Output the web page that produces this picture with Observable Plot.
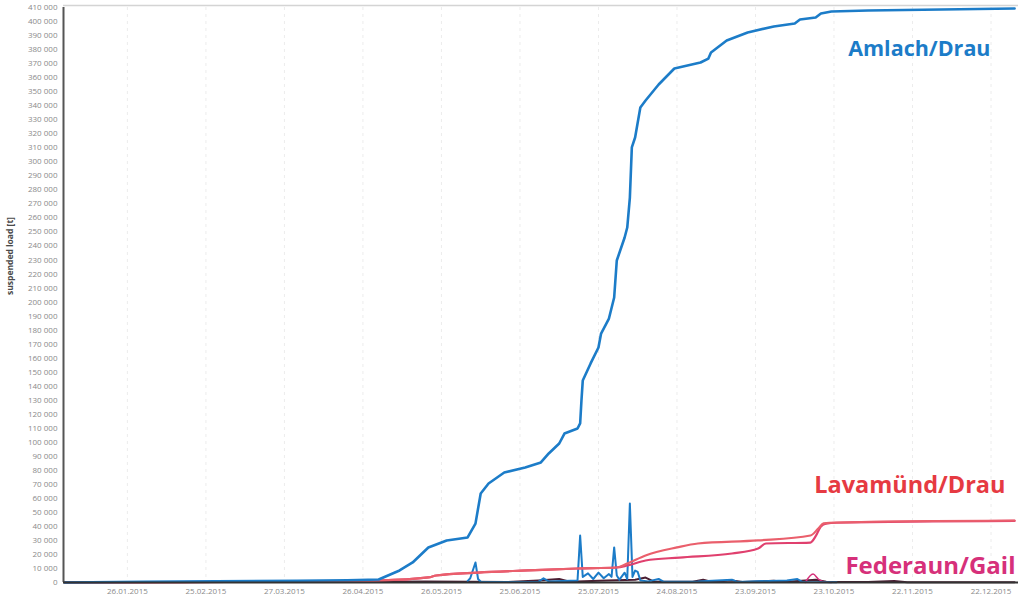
<!DOCTYPE html>
<html><head><meta charset="utf-8">
<script src="https://cdn.jsdelivr.net/npm/d3@7"></script>
<script src="https://cdn.jsdelivr.net/npm/@observablehq/plot@0.6"></script>
<style>
html,body{margin:0;padding:0;background:#fff;}
#chart{width:1018px;height:604px;}
</style></head>
<body><div id="chart"></div>
<script>
// ---- data ----
const xTickDates = ["2015-01-26","2015-02-25","2015-03-27","2015-04-26","2015-05-26","2015-06-25",
  "2015-07-25","2015-08-24","2015-09-23","2015-10-23","2015-11-22","2015-12-22"];
const yTicks = d3.range(0, 410001, 10000);
const seriesNames = ["Amlach/Drau", "Lavamünd/Drau", "Federaun/Gail"];

// cumulative load Amlach/Drau [t]
const amlach = [
  ["2015-01-02",0],["2015-02-01",500],["2015-03-01",800],["2015-04-01",1200],["2015-04-20",1600],
  ["2015-05-02",2100],["2015-05-10",8600],["2015-05-15",14300],["2015-05-21",25000],["2015-05-28",30000],
  ["2015-06-05",32100],["2015-06-08",42000],["2015-06-10",63500],["2015-06-13",70600],["2015-06-19",78400],
  ["2015-06-27",82000],["2015-07-03",85600],["2015-07-06",92000],["2015-07-10",99100],["2015-07-12",106200],
  ["2015-07-17",109800],["2015-07-18",113400],["2015-07-18 12",129800],["2015-07-19",144000],
  ["2015-07-22",156200],["2015-07-25",167600],["2015-07-26",177500],["2015-07-29",188200],["2015-07-31",203200],
  ["2015-08-01",229600],["2015-08-04",246000],["2015-08-05",253100],["2015-08-06",274500],["2015-08-06 18",310200],
  ["2015-08-08",317300],["2015-08-10",338700],["2015-08-12",343700],["2015-08-17",355100],["2015-08-23",366500],
  ["2015-09-02",370800],["2015-09-05",373600],["2015-09-06",377900],["2015-09-12",386500],["2015-09-20",392200],
  ["2015-09-30",396500],["2015-10-08",398600],["2015-10-10",401400],["2015-10-16",402900],["2015-10-18",405700],
  ["2015-10-22",407100],["2015-11-05",407900],["2015-12-31",409300]
];
// daily load Amlach/Drau [t]
const amlachDaily = [
  ["2015-06-05",1000],["2015-06-06",3000],["2015-06-08",14300],["2015-06-09",2500],["2015-06-10",500],
  ["2015-06-17",300],["2015-07-02",500],["2015-07-04",3000],["2015-07-06",800],["2015-07-17",1500],
  ["2015-07-18",33500],["2015-07-19",4000],["2015-07-21",6500],["2015-07-23",2500],["2015-07-25",7000],
  ["2015-07-27",3000],["2015-07-29",6000],["2015-07-30",4000],["2015-07-31",25000],["2015-08-01",5000],
  ["2015-08-02",2000],["2015-08-04",7000],["2015-08-05",2500],["2015-08-06",56300],["2015-08-07",4000],
  ["2015-08-08",8500],["2015-08-09",7500],["2015-08-10",1500],["2015-08-13",800],["2015-08-17",2500],
  ["2015-08-19",500],["2015-09-01",800],["2015-09-14",2000],["2015-09-16",400],["2015-10-05",1500],
  ["2015-10-09",2500],["2015-10-11",300],["2015-10-24",200]
];
// cumulative load Lavamünd/Drau [t]
const lavamuend = [
  ["2015-01-02",0],["2015-02-15",300],["2015-04-01",700],["2015-05-02",1400],["2015-05-21",3600],
  ["2015-05-24",5000],["2015-06-09",7100],["2015-06-28",8600],["2015-07-17",10000],["2015-08-01",10700],
  ["2015-08-05",13500],["2015-08-12",19300],["2015-08-24",25000],["2015-09-01",27800],["2015-09-24",30000],
  ["2015-10-14",33500],["2015-10-17",38500],["2015-10-19",42100],["2015-10-24",42800],["2015-12-31",44200]
];
// cumulative load Federaun/Gail [t]
const federaun = [
  ["2015-01-02",0],["2015-02-15",300],["2015-04-01",700],["2015-05-02",1400],["2015-05-21",3600],
  ["2015-05-24",5000],["2015-06-09",7100],["2015-06-28",8600],["2015-07-17",10000],["2015-08-01",10700],
  ["2015-08-05",12100],["2015-08-12",15700],["2015-08-25",17800],["2015-09-14",20700],["2015-09-24",24200],
  ["2015-09-27",27800],["2015-10-14",28500],["2015-10-16",33000],["2015-10-18",40000],["2015-10-20",42000],
  ["2015-10-24",42600],["2015-12-31",43900]
];
// daily loads Lavamünd / Federaun [t]
const lowerDaily = [
  ["2015-01-02",300],["2015-02-01",200],["2015-03-01",400],["2015-04-01",300],["2015-05-01",600],
  ["2015-05-20",800],["2015-06-05",500],["2015-06-20",300],["2015-07-02",1500],["2015-07-10",2500],
  ["2015-07-14",600],["2015-07-28",1500],["2015-08-08",2000],["2015-08-12",3500],["2015-08-15",800],
  ["2015-08-30",600],["2015-09-03",2000],["2015-09-06",500],["2015-09-14",1500],["2015-09-18",300],
  ["2015-09-30",1200],["2015-10-04",300],["2015-10-16",2000],["2015-10-20",500],["2015-11-05",300],
  ["2015-11-15",1000],["2015-11-20",200],["2015-12-31",200]
];
const federaunDaily = [
  ["2015-10-12",0],["2015-10-15",6000],["2015-10-17",2500],["2015-10-19",500],["2015-10-22",0]
];

// ---- build ----
const p1 = d3.utcParse("%Y-%m-%d"), p2 = d3.utcParse("%Y-%m-%d %H");
const parse = s => p1(s) || p2(s);
const rows = a => a.map(([d, v]) => ({date: parse(d), value: v}));
const xTicks = xTickDates.map(parse);
const fmtY = d => d3.format(",")(d).replace(/,/g, " ");
const x0 = parse("2015-01-01 14");

const blue = "#1c7cc8", red = "#e63a42", pink = "#d6307a";

const plot = Plot.plot({
  width: 1018, height: 604,
  marginLeft: 63, marginRight: 0, marginTop: 7, marginBottom: 22,
  style: {fontFamily: "'Open Sans', sans-serif", background: "#fff"},
  x: {type: "utc", domain: [x0, parse("2016-01-01 12")]},
  y: {domain: [0, 410000]},
  marks: [
    Plot.ruleX(xTicks, {stroke: "#ececec", strokeDasharray: "3,4", strokeWidth: 1}),
    Plot.ruleY([410000], {stroke: "#d4d4d4", strokeWidth: 1.5, dy: -2}),
    Plot.axisY({ticks: yTicks, tickSize: 0, tickPadding: 6, tickFormat: fmtY, fontSize: 8, fill: "#8a8a8a", label: null}),
    Plot.axisX({ticks: xTicks, tickSize: 0, tickPadding: 6, tickFormat: d3.utcFormat("%d.%m.%Y"), fontSize: 8, fill: "#8a8a8a", label: null}),
    Plot.text(["suspended load [t]"], {frameAnchor: "left", dx: -53, rotate: -90, fontSize: 8.5, fontWeight: "bold", fill: "#4a4a4a"}),
    Plot.line(rows(lowerDaily), {x: "date", y: "value", stroke: "#4a1f33", strokeWidth: 2}),
    Plot.line(rows(federaunDaily), {x: "date", y: "value", stroke: pink, strokeWidth: 1.5, curve: "monotone-x"}),
    Plot.line(rows(amlachDaily), {x: "date", y: "value", stroke: blue, strokeWidth: 2}),
    Plot.line(rows(federaun), {x: "date", y: "value", stroke: "#e0406e", strokeWidth: 2.2, curve: "monotone-x"}),
    Plot.line(rows(lavamuend), {x: "date", y: "value", stroke: "#ea5f6c", strokeWidth: 2.2, curve: "monotone-x"}),
    Plot.line(rows(amlach), {x: "date", y: "value", stroke: blue, strokeWidth: 2.6}),
    Plot.ruleX([x0], {stroke: "#555", strokeWidth: 2}),
    Plot.ruleY([0], {stroke: "#333", strokeWidth: 2}),
    Plot.text([seriesNames[0]], {frameAnchor: "top-right", dx: -28, dy: 33, fontSize: 21.5, fontWeight: "bold", fill: blue}),
    Plot.text([seriesNames[1]], {frameAnchor: "top-right", dx: -13, dy: 469, fontSize: 23.5, fontWeight: "bold", fill: red}),
    Plot.text([seriesNames[2]], {frameAnchor: "top-right", dx: -3, dy: 549, fontSize: 24, fontWeight: "bold", fill: pink})
  ]
});
document.getElementById("chart").appendChild(plot);
</script></body></html>
